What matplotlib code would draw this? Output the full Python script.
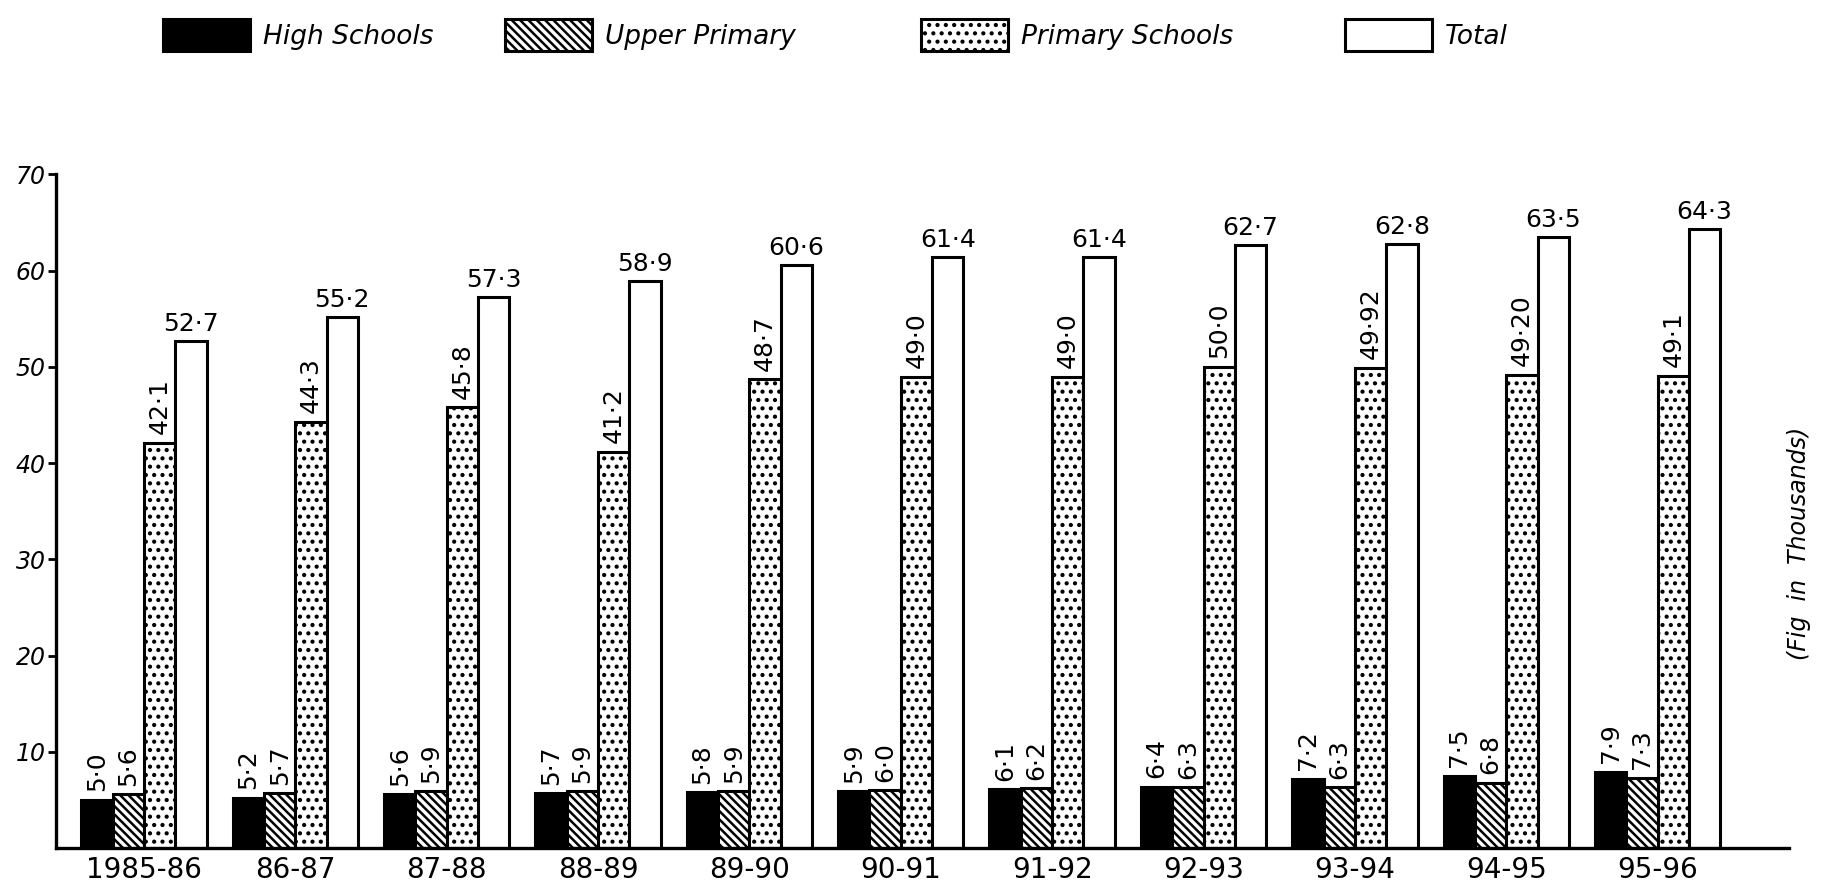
import matplotlib.pyplot as plt
import matplotlib as mpl
import numpy as np

years = ["1985-86", "86-87", "87-88", "88-89", "89-90", "90-91",
         "91-92", "92-93", "93-94", "94-95", "95-96"]
high = [5.0, 5.2, 5.6, 5.7, 5.8, 5.9, 6.1, 6.4, 7.2, 7.5, 7.9]
upper = [5.6, 5.7, 5.9, 5.9, 5.9, 6.0, 6.2, 6.3, 6.3, 6.8, 7.3]
primary = [42.1, 44.3, 45.8, 41.2, 48.7, 49.0, 49.0, 50.0, 49.92, 49.20, 49.1]
primary_labels = ["42·1", "44·3", "45·8", "41·2", "48·7", "49·0", "49·0",
                  "50·0", "49·92", "49·20", "49·1"]
total = [52.7, 55.2, 57.3, 58.9, 60.6, 61.4, 61.4, 62.7, 62.8, 63.5, 64.3]
series_names = ["High Schools", "Upper Primary", "Primary Schools", "Total"]
yticks = [10, 20, 30, 40, 50, 60, 70]

mpl.rcParams["hatch.linewidth"] = 1.8


def fmt(v):
    return f"{v:.1f}".replace(".", "·")


fig = plt.figure(figsize=(18.21, 8.83), dpi=100)
ax = fig.add_axes([0.0306, 0.0395, 0.952, 0.763])

x = np.arange(len(years))
w = 0.207
styles = [
    dict(color="black", hatch=None),
    dict(color="white", hatch="\\\\\\\\"),
    dict(color="white", hatch=".."),
    dict(color="white", hatch=None),
]
data = [high, upper, primary, total]
label_sets = [[fmt(v) for v in high], [fmt(v) for v in upper],
              primary_labels, [fmt(v) for v in total]]

handles = []
for i, (vals, st, labs) in enumerate(zip(data, styles, label_sets)):
    pos = x + (i - 1.5) * w
    bars = ax.bar(pos, vals, w, facecolor=st["color"], edgecolor="black",
                  hatch=st["hatch"], linewidth=2.2, label=series_names[i])
    handles.append(bars)
    for p, v, t in zip(pos, vals, labs):
        if i < 3:
            ax.text(p, v + 0.9, t, rotation=90, ha="center", va="bottom",
                    fontsize=18)
        else:
            ax.text(p, v + 0.5, t, ha="center", va="bottom", fontsize=18)

ax.set_xlim(-0.583, 10.87)
ax.set_ylim(0, 70)
ax.set_yticks(yticks)
ax.set_yticklabels([str(t) for t in yticks], fontsize=17, style="italic")
ax.set_xticks(x)
ax.set_xticklabels(years, fontsize=20)
ax.tick_params(axis="x", length=0, pad=6)
ax.tick_params(axis="y", length=6, width=2, direction="out", pad=1)
for s in ["top", "right"]:
    ax.spines[s].set_visible(False)
ax.spines["left"].set_linewidth(2.4)
ax.spines["bottom"].set_linewidth(2.4)

fig.text(0.988, 0.385, "(Fig  in  Thousands)", rotation=90, ha="center",
         va="center", fontsize=17, style="italic")

# legend entries placed one by one along the top
leg_x = [0.0893, 0.2774, 0.5057, 0.7385]
for h, name, lx in zip(handles, series_names, leg_x):
    fig.legend([h], [name], loc="upper left", bbox_to_anchor=(lx, 0.978),
               frameon=False, borderpad=0, borderaxespad=0,
               handlelength=3.3, handleheight=1.45, handletextpad=0.5,
               prop={"size": 19, "style": "italic"})

fig.savefig("out.png", dpi=100, facecolor="white")
